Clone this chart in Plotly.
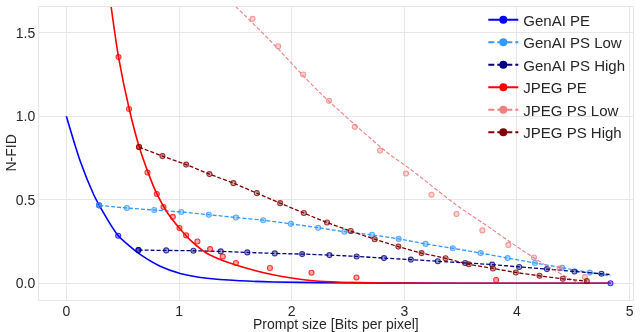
import plotly.graph_objects as go

# measured points (markers)
genai_pe_x = [0.29, 0.46, 0.64, 4.83]
genai_pe_y = [0.467, 0.285, 0.199, 0.0]

genai_low_x = [0.29, 0.537, 0.78, 1.02, 1.264, 1.505, 1.747, 1.993, 2.235, 2.468,
               2.713, 2.95, 3.189, 3.43, 3.678, 3.917, 4.159, 4.401, 4.647]
genai_low_y = [0.467, 0.451, 0.439, 0.427, 0.411, 0.394, 0.378, 0.356, 0.333, 0.309,
               0.290, 0.266, 0.236, 0.21, 0.181, 0.151, 0.122, 0.093, 0.064]

genai_high_x = [0.64, 0.886, 1.128, 1.37, 1.606, 1.85, 2.093, 2.335, 2.577, 2.82,
                3.058, 3.297, 3.54, 3.78, 4.02, 4.266, 4.51, 4.75]
genai_high_y = [0.199, 0.197, 0.195, 0.191, 0.185, 0.179, 0.175, 0.169, 0.161, 0.151,
                0.142, 0.132, 0.122, 0.112, 0.098, 0.085, 0.071, 0.057]

jpeg_pe_x = [0.463, 0.556, 0.645, 0.72, 0.803, 0.862, 0.945, 1.004, 1.063, 1.163,
             1.276, 1.388, 1.505, 1.807, 2.176, 2.575, 3.815]
jpeg_pe_y = [1.355, 1.044, 0.816, 0.664, 0.535, 0.457, 0.398, 0.331, 0.287, 0.25,
             0.205, 0.161, 0.122, 0.092, 0.063, 0.035, 0.02]

jpeg_low_x = [1.653, 1.88, 2.102, 2.332, 2.56, 2.784, 3.015, 3.241, 3.463, 3.693,
              3.924, 4.151, 4.378, 4.603]
jpeg_low_y = [1.584, 1.42, 1.251, 1.093, 0.937, 0.795, 0.658, 0.53, 0.415, 0.317,
              0.23, 0.155, 0.089, 0.037]

jpeg_high_x = [0.645, 0.853, 1.063, 1.27, 1.483, 1.69, 1.898, 2.108, 2.314, 2.524,
               2.737, 2.947, 3.153, 3.366, 3.572, 3.787, 3.99, 4.2, 4.407, 4.62]
jpeg_high_y = [0.816, 0.762, 0.711, 0.654, 0.600, 0.54, 0.48, 0.421, 0.364, 0.313,
               0.264, 0.22, 0.181, 0.15, 0.114, 0.089, 0.065, 0.045, 0.027, 0.013]

# fitted curves
genai_pe_fit_x = [0, 0.124, 0.242, 0.292, 0.455, 0.567, 0.655, 0.833, 1.01, 1.246,
                  1.54, 1.84, 2.25, 3.0, 4.0, 4.83]
genai_pe_fit_y = [1.0, 0.729, 0.532, 0.467, 0.29, 0.22, 0.173, 0.102, 0.059, 0.03,
                  0.015, 0.008, 0.004, 0.001, 0.0, 0.0]

jpeg_pe_fit_x = [0.396, 0.463, 0.558, 0.647, 0.724, 0.8, 0.9, 1.01, 1.098, 1.246,
                 1.393, 1.541, 1.689, 1.836, 1.984, 2.25, 2.6, 3.0, 3.5, 4.83]
jpeg_pe_fit_y = [1.664, 1.355, 1.044, 0.816, 0.666, 0.54, 0.42, 0.325, 0.26, 0.18,
                 0.135, 0.102, 0.074, 0.051, 0.033, 0.012, 0.004, 0.001, 0.0, 0.0]

genai_low_fit_x = genai_low_x + [4.83]
genai_low_fit_y = genai_low_y + [0.045]

genai_high_fit_x = genai_high_x + [4.835]
genai_high_fit_y = genai_high_y + [0.052]

jpeg_low_fit_x = [1.5, 1.8, 2.25, 2.84, 3.06, 3.46, 3.7, 4.05, 4.3, 4.55]
jpeg_low_fit_y = [1.66, 1.46, 1.142, 0.788, 0.68, 0.47, 0.36, 0.197, 0.09, 0.0]

jpeg_high_fit_x = jpeg_high_x
jpeg_high_fit_y = jpeg_high_y

series = [
    # name, color, fill, dash, line width, points, fit
    ("GenAI PE", "#0000ff", "rgba(0,0,255,0.45)", "solid", 1.6, genai_pe_x, genai_pe_y, genai_pe_fit_x, genai_pe_fit_y),
    ("GenAI PS Low", "#3399ff", "rgba(51,153,255,0.45)", "4px,2px", 1.3, genai_low_x, genai_low_y, genai_low_fit_x, genai_low_fit_y),
    ("GenAI PS High", "#000080", "rgba(0,0,128,0.45)", "4px,2px", 1.3, genai_high_x, genai_high_y, genai_high_fit_x, genai_high_fit_y),
    ("JPEG PE", "#ff0000", "rgba(255,0,0,0.45)", "solid", 1.6, jpeg_pe_x, jpeg_pe_y, jpeg_pe_fit_x, jpeg_pe_fit_y),
    ("JPEG PS Low", "#f08080", "rgba(240,128,128,0.45)", "4px,2px", 1.1, jpeg_low_x, jpeg_low_y, jpeg_low_fit_x, jpeg_low_fit_y),
    ("JPEG PS High", "#800000", "rgba(128,0,0,0.45)", "4px,2px", 1.3, jpeg_high_x, jpeg_high_y, jpeg_high_fit_x, jpeg_high_fit_y),
]

fig = go.Figure()

for name, color, fill, dash, lw, px_, py_, fx, fy in series:
    fig.add_trace(go.Scatter(
        x=fx, y=fy, mode="lines", showlegend=False, hoverinfo="skip",
        line=dict(color=color, width=lw, dash=dash, shape="spline", smoothing=0.8),
    ))
    fig.add_trace(go.Scatter(
        x=px_, y=py_, mode="markers", showlegend=False, opacity=0.8,
        marker=dict(size=5, color=fill, line=dict(color=color, width=1.1)),
    ))

# legend entries
for name, color, fill, dash, lw, px_, py_, fx, fy in series:
    fig.add_trace(go.Scatter(
        x=[None], y=[None], mode="lines+markers", name=name,
        line=dict(color=color, width=2, dash="solid" if dash == "solid" else "6px,3px"),
        marker=dict(size=8, color=color),
    ))

fig.update_layout(
    width=640, height=332,
    margin=dict(l=39, r=7, t=3, b=32),
    plot_bgcolor="white",
    paper_bgcolor="white",
    font=dict(family="Liberation Sans, Arial", size=14, color="#262626"),
    legend=dict(x=0.748, y=1.012, xanchor="left", yanchor="top",
                bgcolor="rgba(255,255,255,0)", font=dict(size=15),
                tracegroupgap=0),
    xaxis=dict(range=[-0.243, 5.03], tickvals=[0, 1, 2, 3, 4, 5],
               showgrid=True, gridcolor="#e6e6e6", gridwidth=1.2,
               zeroline=False, showline=True, linecolor="#e6e6e6", mirror=True,
               ticks="", automargin=False, ticklabelstandoff=-2),
    yaxis=dict(range=[-0.1, 1.655], tickvals=[0, 0.5, 1.0, 1.5], tickformat=".1f",
               showgrid=True, gridcolor="#e6e6e6", gridwidth=1.2,
               zeroline=False, showline=True, linecolor="#e6e6e6", mirror=True,
               ticks="", automargin=False),
    annotations=[
        dict(text="Prompt size [Bits per pixel]", xref="paper", yref="paper",
             x=0.5, y=0, yshift=-24, xanchor="center", yanchor="middle",
             showarrow=False, font=dict(size=14)),
        dict(text="N-FID", xref="paper", yref="paper", x=0, y=0.5, xshift=-29,
             xanchor="center", yanchor="middle", textangle=-90,
             showarrow=False, font=dict(size=14)),
    ],
)

# drop the browser's default body margin so the figure sits at the page corner
fig.write_html("out.html", config={"displayModeBar": False},
               post_script="document.body.style.margin='0';")
